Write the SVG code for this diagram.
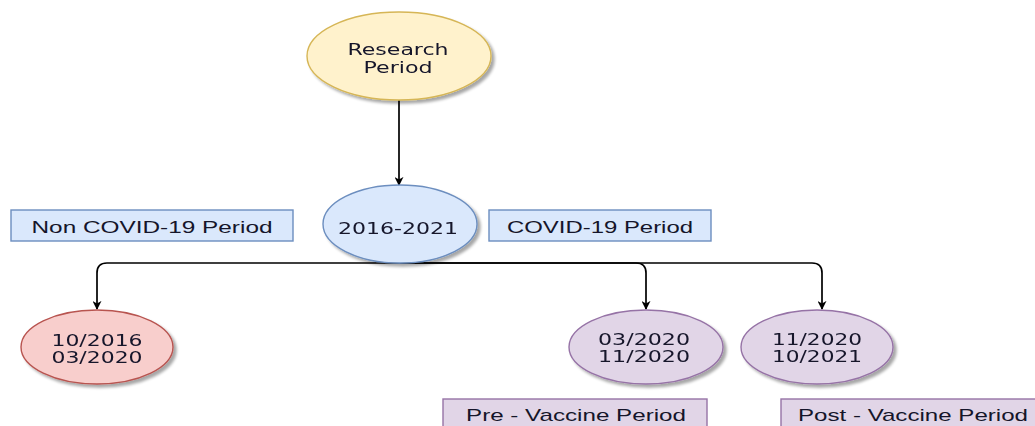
<svg xmlns="http://www.w3.org/2000/svg" width="1035" height="426" viewBox="0 0 1035 426">
  <style>
    .lbl { font-family: "DejaVu Sans", Verdana, sans-serif; font-size: 16px; fill: #15152a; text-anchor: middle; }
    .tag { font-family: "Liberation Sans", Arial, sans-serif; font-size: 17px; fill: #15152a; text-anchor: middle; }
    .edge { fill: none; stroke: #000; stroke-width: 1.7; marker-end: url(#arrow); }
    .yellow { fill: #fff2cc; stroke: #d6b656; stroke-width: 1.4; }
    .blue { fill: #dae8fc; stroke: #6c8ebf; stroke-width: 1.4; }
    .red { fill: #f8cecc; stroke: #b85450; stroke-width: 1.4; }
    .purple { fill: #e1d5e7; stroke: #9673a6; stroke-width: 1.4; }
  </style>
  <defs>
    <marker id="arrow" viewBox="0 0 10 10" refX="9" refY="5" markerWidth="9" markerHeight="9" markerUnits="userSpaceOnUse" orient="auto">
      <path d="M0,0 L10,5 L0,10 L3,5 Z" fill="#000"/>
    </marker>
    <filter id="shadow" x="-20%" y="-20%" width="150%" height="150%">
      <feGaussianBlur in="SourceAlpha" stdDeviation="1.5"/>
      <feOffset dx="3" dy="3" result="b"/>
      <feComponentTransfer><feFuncA type="linear" slope="0.35"/></feComponentTransfer>
      <feMerge><feMergeNode/><feMergeNode in="SourceGraphic"/></feMerge>
    </filter>
  </defs>

  <rect width="1035" height="426" fill="#fff"/>

  <g id="connectors">
    <path class="edge" d="M399,100 L399,185"/>
    <path class="edge" d="M400,263 L107,263 Q97,263 97,273 L97,309"/>
    <path class="edge" d="M400,263 L636,263 Q646,263 646,273 L646,309"/>
    <path class="edge" d="M400,263 L812,263 Q822,263 822,273 L822,309"/>
  </g>

  <g id="research-period" filter="url(#shadow)">
    <ellipse class="yellow" cx="399" cy="56" rx="92" ry="44"/>
    <text class="lbl" x="398" y="55" textLength="101" lengthAdjust="spacingAndGlyphs">Research</text>
    <text class="lbl" x="398" y="73" textLength="69" lengthAdjust="spacingAndGlyphs">Period</text>
  </g>

  <g id="span-2016-2021" filter="url(#shadow)">
    <ellipse class="blue" cx="400" cy="224" rx="77" ry="39"/>
    <text class="lbl" x="398" y="234" textLength="120" lengthAdjust="spacingAndGlyphs">2016-2021</text>
  </g>

  <g id="non-covid-label">
    <rect class="blue" x="11" y="210" width="282" height="31"/>
    <text class="tag" x="152" y="233" textLength="241" lengthAdjust="spacingAndGlyphs">Non COVID-19 Period</text>
  </g>

  <g id="covid-label">
    <rect class="blue" x="489" y="210" width="222" height="31"/>
    <text class="tag" x="600" y="233" textLength="186" lengthAdjust="spacingAndGlyphs">COVID-19 Period</text>
  </g>

  <g id="range-2016-2020" filter="url(#shadow)">
    <ellipse class="red" cx="97" cy="347" rx="76" ry="37"/>
    <text class="lbl" x="97" y="346" textLength="91" lengthAdjust="spacingAndGlyphs">10/2016</text>
    <text class="lbl" x="97" y="363" textLength="91" lengthAdjust="spacingAndGlyphs">03/2020</text>
  </g>

  <g id="range-2020-2020" filter="url(#shadow)">
    <ellipse class="purple" cx="646" cy="347" rx="77" ry="37"/>
    <text class="lbl" x="644" y="345" textLength="92" lengthAdjust="spacingAndGlyphs">03/2020</text>
    <text class="lbl" x="644" y="362" textLength="92" lengthAdjust="spacingAndGlyphs">11/2020</text>
  </g>

  <g id="range-2020-2021" filter="url(#shadow)">
    <ellipse class="purple" cx="817" cy="347" rx="76" ry="37"/>
    <text class="lbl" x="817" y="345" textLength="90" lengthAdjust="spacingAndGlyphs">11/2020</text>
    <text class="lbl" x="817" y="362" textLength="90" lengthAdjust="spacingAndGlyphs">10/2021</text>
  </g>

  <g id="pre-vaccine-label">
    <rect class="purple" x="443" y="399" width="264" height="40"/>
    <text class="tag" x="576" y="421" textLength="220" lengthAdjust="spacingAndGlyphs">Pre - Vaccine Period</text>
  </g>

  <g id="post-vaccine-label">
    <rect class="purple" x="781" y="399" width="264" height="40"/>
    <text class="tag" x="913" y="421" textLength="230" lengthAdjust="spacingAndGlyphs">Post - Vaccine Period</text>
  </g>
</svg>
